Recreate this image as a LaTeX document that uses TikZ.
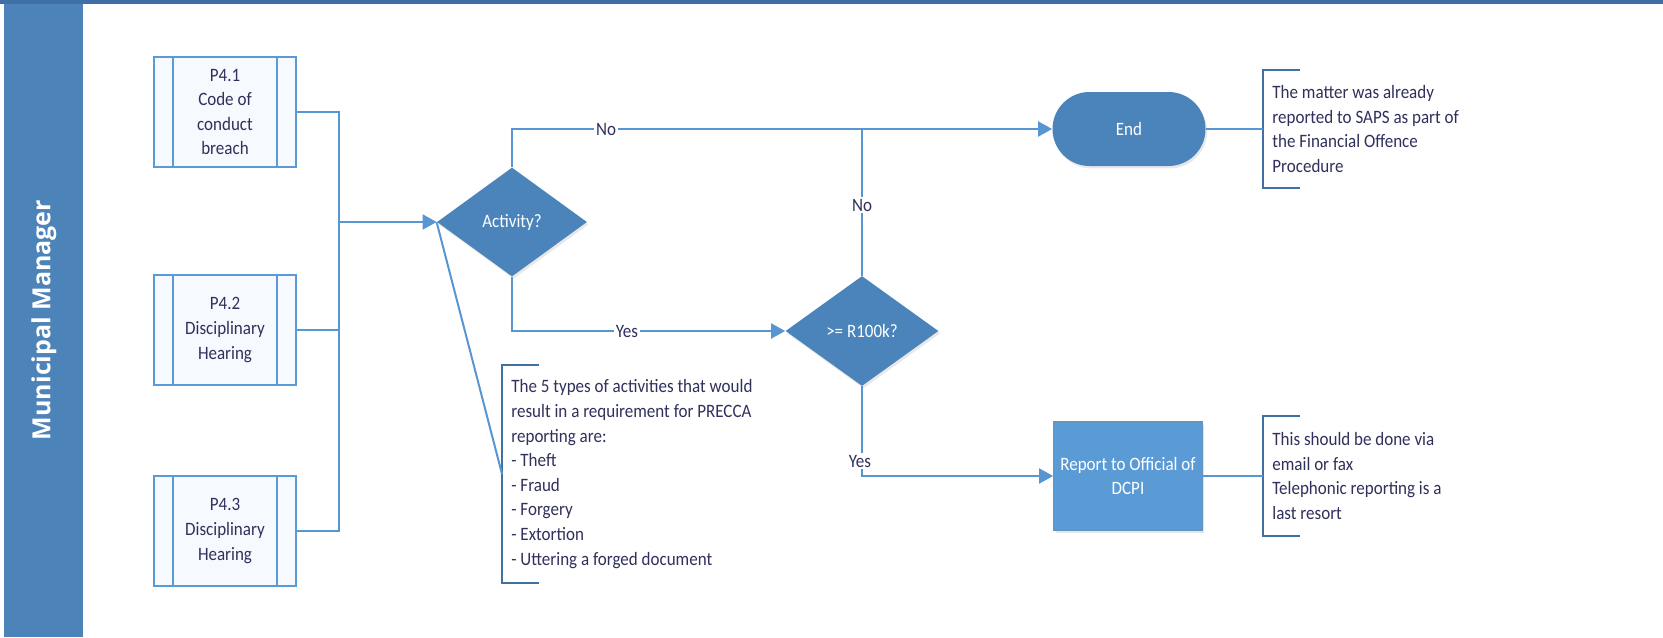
\documentclass[tikz,border=0pt]{standalone}
\usepackage{fontspec}
\setmainfont{Carlito}[FakeStretch=0.9]
\newfontfamily\headfont{Open Sans}
\usetikzlibrary{shapes.geometric,arrows.meta,shadows}
\definecolor{lane}{RGB}{76,131,184}
\definecolor{topbar}{RGB}{62,112,165}
\definecolor{decfill}{RGB}{74,132,186}
\definecolor{procfill}{RGB}{91,155,213}
\definecolor{linec}{RGB}{88,150,210}
\definecolor{brack}{RGB}{65,113,160}
\definecolor{txt}{RGB}{48,48,92}
\definecolor{subfill}{RGB}{246,249,253}
\tikzset{
  every node/.style={font=\fontsize{9.45pt}{12.3pt}\selectfont},
  sub/.style={draw=procfill, line width=1.2pt, fill=subfill, minimum width=71pt, minimum height=55pt,
    align=center, text=txt, inner sep=0pt,
    path picture={\draw[procfill, line width=1.2pt]
      ([xshift=9.5pt]path picture bounding box.north west) -- ([xshift=9.5pt]path picture bounding box.south west)
      ([xshift=-9.5pt]path picture bounding box.north east) -- ([xshift=-9.5pt]path picture bounding box.south east);}},
  dec/.style={diamond, fill=decfill, text=white, minimum width=75pt, minimum height=54.5pt, inner sep=0pt,
    drop shadow={opacity=0.18, shadow xshift=0.8pt, shadow yshift=-1.2pt}},
  termbox/.style={rectangle, rounded corners=18.5pt, fill=decfill, text=white, minimum width=76.5pt, minimum height=37pt,
    drop shadow={opacity=0.18, shadow xshift=0.8pt, shadow yshift=-1.2pt}},
  procbox/.style={rectangle, fill=procfill, draw=procfill!80!gray, line width=0.6pt, text=white, align=center,
    minimum width=73.5pt, minimum height=54pt,
    drop shadow={opacity=0.2, shadow xshift=1pt, shadow yshift=-1.5pt}},
  note/.style={rectangle, align=left, text=txt, inner xsep=4.5pt, inner ysep=0pt, anchor=west},
  brk/.style={draw=brack, line width=1pt},
  conn/.style={draw=linec, line width=1pt},
  arr/.style={-{Triangle[length=7pt,width=7.5pt]}},
  lbl/.style={fill=white, text=txt, inner sep=1pt},
}
\begin{document}
\begin{tikzpicture}[x=0.5pt,y=-0.5pt]
\useasboundingbox (0,0) rectangle (1663,637);
\fill[white] (0,0) rectangle (1663,637);
\fill[lane] (4,0) rectangle (83,637);
\fill[topbar] (0,0) rectangle (1663,4);
\node[rotate=90, text=white, font=\headfont\bfseries\fontsize{12.5pt}{15pt}\selectfont] (hdr) at (44,320) {Municipal Manager};

\node[sub] (p1) at (225,112) {P4.1\\Code of\\conduct\\breach};
\node[sub] (p2) at (225,330) {P4.2\\Disciplinary\\Hearing};
\node[sub] (p3) at (225,531) {P4.3\\Disciplinary\\Hearing};
\coordinate (j) at (339,222);
\node[dec] (act) at (512,222) {Activity?};
\node[dec, minimum width=76.5pt, minimum height=55pt] (d2) at (862,331) {>= R100k?};
\node[termbox] (end) at (1129,129) {End};
\node[procbox] (rep) at (1128,476) {Report to Official of\\DCPI};

\node[note, minimum height=58.5pt] (n1) at (1263,129) {The matter was already\\reported to SAPS as part of\\the Financial Offence\\Procedure};
\node[note, minimum height=60pt] (n2) at (1263,476) {This should be done via\\email or fax\\Telephonic reporting is a\\last resort};
\node[note, minimum height=108.5pt] (n3) at (502,474) {The 5 types of activities that would\\result in a requirement for PRECCA\\reporting are:\\- Theft\\- Fraud\\- Forgery\\- Extortion\\- Uttering a forged document};

\draw[brk] ([xshift=18.5pt]n1.north west) -- (n1.north west) -- (n1.south west) -- ([xshift=18.5pt]n1.south west);
\draw[brk] ([xshift=18.5pt]n2.north west) -- (n2.north west) -- (n2.south west) -- ([xshift=18.5pt]n2.south west);
\draw[brk] ([xshift=18.5pt]n3.north west) -- (n3.north west) -- (n3.south west) -- ([xshift=18.5pt]n3.south west);

\draw[conn] (p1.east) -| (j);
\draw[conn] (p2.east) -| (j);
\draw[conn] (p3.east) -| (j);
\draw[conn,arr] (j) -- (act.west);
\draw[conn,arr] (act.north) |- (end.west);
\draw[conn] (d2.north) -- (d2.north |- end.west);
\draw[conn,arr] (act.south) |- (d2.west);
\draw[conn,arr] (d2.south) |- (rep.west);
\draw[conn] (end.east) -- (n1.west);
\draw[conn] (rep.east) -- (n2.west);
\draw[conn] (act.west) -- (n3.west);

\node[lbl] (l1) at (606,129) {No};
\node[lbl] (l2) at (862,205) {No};
\node[lbl] (l3) at (627,331) {Yes};
\node[lbl] (l4) at (860,461) {Yes};
\end{tikzpicture}
\end{document}
